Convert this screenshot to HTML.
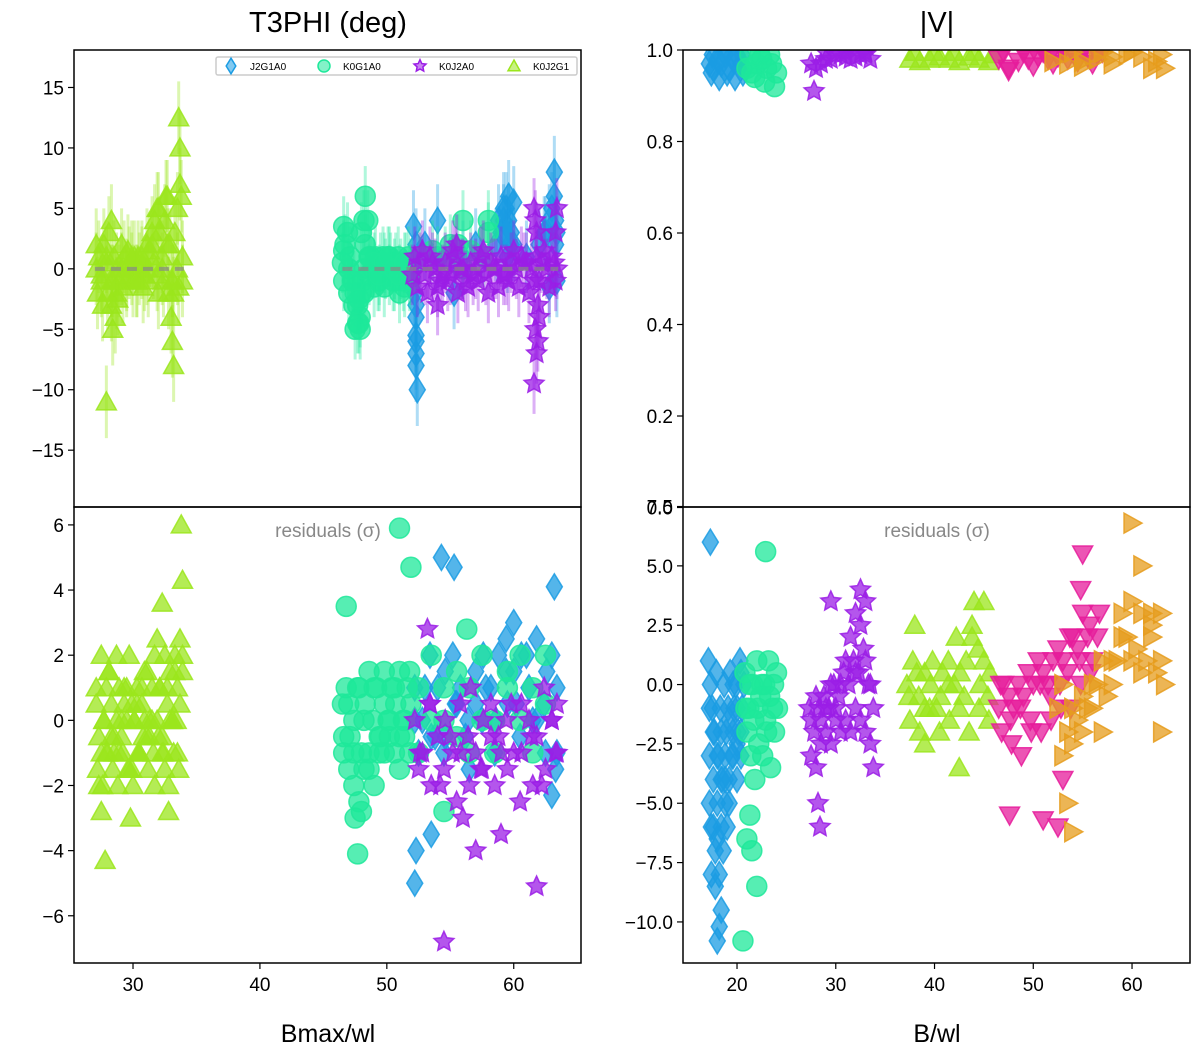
<!DOCTYPE html>
<html><head><meta charset="utf-8"><style>
body{margin:0;background:#fff;}
svg{display:block;font-family:"Liberation Sans","DejaVu Sans",sans-serif;}
</style></head><body>
<svg id="chart" width="1200" height="1055"></svg>
<script>
// ---- data: left top T3PHI ----
const limeTopX=[27.1,27.3,27.5,27.7,27.9,28.1,28.3,28.5,28.7,28.9,29.1,29.3,29.5,29.7,29.9,30.1,30.3,30.5,30.7,30.9,31.1,31.3,31.5,31.7,31.9,32.1,32.3,32.5,32.7,32.9,33.1,33.3,33.5,33.7,33.9,27.2,27.6,28.0,28.4,28.8,29.2,29.6,30.0,30.4,30.8,31.2,31.6,32.0,32.4,32.8,33.2,33.6,27.9,28.4,28.6,33.0,33.1,33.2,33.7,33.8,33.6,32.0,32.6,28.3,27.1,27.5,27.9,28.3,28.7,29.1,29.5,29.9,30.3,30.7,31.1,31.5,31.9,32.3,32.7,33.1,33.5,33.9];
const limeTopY=[0,1,-1,2,0.5,3,4,1,-2,-1,0,1,-1,0.5,0,1,-1,0,1,-0.5,0,1.5,2,4,5,3,0,4,6,2,-1,3,5,7,1,-2,-3,-2,-1,-2.5,-1.5,1.5,-1,1,-1.5,-1,0.5,-2,-1,-2,-2,-1.5,-11,-5,-4,-4,-6,-8,10,6,12.5,5,6,-3,2,-0.5,1,-1,0,2,-0.5,1,-1,0.5,2,3,-0.5,1,2,-1,0,-1];
const cyanTopX=[46.5,46.7,46.9,47.1,47.3,47.5,47.7,47.9,48.1,48.3,48.5,48.7,48.9,49.1,49.3,49.5,49.7,49.9,50.1,50.3,50.5,50.7,50.9,51.1,51.3,51.5,51.7,51.9,46.6,47.0,47.4,47.8,48.2,48.6,49.0,49.4,49.8,50.2,50.6,51.0,51.4,51.8,47.5,47.7,47.9,48.0,46.6,48.3,48.2,48.0,54,56,56,58,58,55,46.6,47,47.4,47.8,48.2,48.6,49,49.4,49.8,50.2,50.6,51,51.4,51.8,52.6,53.6,54.6,55.6,56.6,57.6];
const cyanTopY=[0.5,2,3,1,-1,-2,-3,-4,-1,2,4,1,0,1,-1,0.5,1,0,1,0.5,-1,0.5,1,0,-1,0.5,1,0,-1,-2,-3,-4.5,-2,-0.5,-1.5,-1,-1.5,-0.5,-1,-2,-1.5,-0.5,-5,-4.5,-5,-2,3.5,6,4,3,1,4,0,3,4,2,1.5,0,-1,-2.5,0,1,0.5,-0.5,0.5,1,0,-0.5,0.5,-1,1,1.5,1,2,1.5,1];
const purpleTopX=[52.2,52.6,53,53.4,53.8,54.2,54.6,55,55.4,55.8,56.2,56.6,57,57.4,57.8,58.2,58.6,59,59.4,59.8,60.2,60.6,61,61.4,61.8,62.2,62.6,63,63.4,52.4,53.2,54,54.8,55.6,56.4,57.2,58,58.8,59.6,60.4,61.2,62,62.8,63.3,61.6,61.7,61.8,61.9,62,61.7,61.8,61.6,61.9,63.4,63.3,54,55.5,52,52.8,53.6,54.4,55.2,56,56.8,57.6,58.4,59.2,60,60.8,61.6,62.4,63.2];
const purpleTopY=[1,0.5,-0.5,1,0,-1,0.5,-0.5,1,0,-1,0.5,0,1,-0.5,0.5,0,1,-0.5,0.5,0,1,0.5,0,1,0.5,0,1,0,-1.5,-2,-1.5,-1,-2,-1.5,-1,-2,-1.5,-1,-1.5,-2,-1,-1.5,-1,5,4,3,-3,-4,-5,-7,-9.5,-6,5,3,-3,2,-0.5,1.5,0.5,-0.5,1.5,0,-0.5,1.5,0,-0.5,1.5,0.5,-1,1.5,0.5];
const blueTopX=[52.1,52.2,52.3,52.3,52.3,52.3,52.4,52.3,55.3,56,58.6,59,59.2,59.4,59.6,59.8,60,59.5,62,62.5,63,63.2,63.3,63.4,62.8,53,54,57,61,63.3,58.8,59.2,59.6,60,59.4,59.8,62.4,62.8,63.2,63.4,52.3,52.3];
const blueTopY=[3.5,-2,-4,-5.5,-7,-8,-10,2,-2,1,2,3,4,5,4,3,2,1,2,3,5,8,4,-1,-1.5,2,4,2,1,2,4,5,6,5.5,3,2,3,4,6,3,-3,-6];
// ---- left bottom residuals ----
const limeResX=[27.1,27.3,27.5,27.7,27.9,28.1,28.3,28.5,28.7,28.9,29.1,29.3,29.5,29.7,29.9,30.1,30.3,30.5,30.7,30.9,31.1,31.3,31.5,31.7,31.9,32.1,32.3,32.5,32.7,32.9,33.1,33.3,33.5,33.7,33.9,27.2,27.6,28,28.4,28.8,29.2,29.6,30,30.4,30.8,31.2,31.6,32,32.4,32.8,33.2,33.6,27.8,33.8,33.9,27.5,29.8,32.8,32.3,27.1,27.5,27.9,28.3,28.7,29.1,29.5,29.9,30.3,30.7,31.1,31.5,31.9,32.3,32.7,33.1,33.5,33.9,27.3,27.7,28.1,28.5,28.9,29.3,29.7,30.1,30.5,30.9,31.3,31.7,32.1,32.5,32.9,33.3,33.7,33.4];
const limeResY=[1,-0.5,2,0,-1,1.5,0.5,-1,0,1,-0.5,1,0,-1.5,0.5,0,1,-1,0.5,0,1.5,-0.5,1,2,0,1,-1,2,0.5,1.5,0,2,1,0.5,1.5,-1.5,-2,-1,-1.5,-2,-1,-1.5,-2,-1,-0.5,-1.5,-1,-0.5,-1,-2,-1,-1.5,-4.3,6,4.3,-2.8,-3,-2.8,3.6,0.5,-1,1,-0.5,2,0,1,-1.5,0.5,1,-0.5,0,2.5,-0.5,1,0,-1,2,-2,0,1.5,-0.5,-1,0.5,2,0,-1,1.5,0,-2,1,-1.5,0,1.5,2.5,0];
const cyanResX=[46.5,46.8,47.1,47.4,47.7,48,48.3,48.6,48.9,49.2,49.5,49.8,50.1,50.4,50.7,51,51.3,51.6,51.9,46.6,47,47.4,47.8,48.2,48.6,49,49.4,49.8,50.2,50.6,51,51.4,51.8,52.5,53.5,54.5,55.5,56.5,57.5,58.5,59.5,60.5,61.5,62.5,47.7,46.8,51.9,51,47.5,48,54.5,56.3,46.6,47,47.4,47.8,48.2,48.6,49,49.4,49.8,50.2,50.6,51,51.4,51.8,52.5,53.5,54.5,55.5,56.5,57.5,58.5,59.5,60.5,61.5,62.5];
const cyanResY=[0.5,1,-0.5,0,1,-1,0.5,1.5,0,1,-0.5,1.5,0,1,0.5,1.5,0,1,0.5,-1,-1.5,-2,-2.5,-1.5,-1,-2,-0.5,-1,-0.5,-1,-0.5,0,-1,1,2,0,1.5,-1,2,0,1,2,-1,0.5,-4.1,3.5,4.7,5.9,-3,-2.8,-2.8,2.8,-0.5,0.5,-1,1,0,-1.5,1,-1,0.5,0,1,-1.5,-0.5,1.5,-1,0,1,-0.5,1,0,-1,1.5,0,1,2];
const blueResX=[52.2,52.8,53.4,54,54.6,55.2,55.8,56.4,57,57.6,58.2,58.8,59.4,60,60.6,61.2,61.8,62.4,63,63.4,52.5,53.5,54.5,55.5,56.5,57.5,58.5,59.5,60.5,61.5,62.5,63.3,54.3,55.3,52.2,52.3,53.5,63.2,63,60,52.2,53,53.8,54.6,55.4,56.2,57,57.8,58.6,59.4,60.2,61,61.8,62.6,63.4];
const blueResY=[1,0,2,1,-0.5,2,1,0,1.5,2,1,2,2.5,1.5,2,1,2.5,0.5,2,1,-1,-0.5,-1,0.5,-1.5,0,-1,0.5,-0.5,0,-1,-1.5,5,4.7,-5,-4,-3.5,4.1,-2.3,3,0,1,-0.5,1.5,0.5,-0.5,0.5,1,0,1.5,0.5,2,0,1.5,-1];
const purpleResX=[52.2,52.8,53.4,54,54.6,55.2,55.8,56.4,57,57.6,58.2,58.8,59.4,60,60.6,61.2,61.8,62.4,63,63.4,52.5,53.5,54.5,55.5,56.5,57.5,58.5,59.5,60.5,61.5,62.5,63.3,54.5,61.8,57,59,56,53.2,52.6,53.4,54.2,55,55.8,56.6,57.4,58.2,59,59.8,60.6,61.4,62.2,63,63.4];
const purpleResY=[0,-1,0.5,-0.5,0,-1,0.5,-0.5,-1,0,0.5,-0.5,0,-1,0.5,0,-0.5,1,0,0.5,-1.5,-2,-1.5,-2.5,-2,-1.5,-2,-1.5,-2.5,-2,-1.5,-1,-6.8,-5.1,-4,-3.5,-3,2.8,-1,0.5,-2,-0.5,-1,1,-1.5,-0.5,-1,0.5,-1,-0.5,-2,0,-1];
// ---- right top |V| ----
const vBlueX=[17.2,17.6,18,18.4,18.8,19.2,19.6,20,20.4,20.8,17.5,18.5,19.5,20.5,17.4,18.2,19,19.8,20.6];
const vBlueY=[0.97,0.96,0.98,0.97,0.99,0.96,0.98,0.99,0.97,0.96,0.99,0.99,0.99,0.99,0.95,0.94,0.95,0.94,0.95];
const vCyanX=[21,21.5,22,22.5,23,23.5,24,21.3,22.3,23.3,23.8,21.8,22.8];
const vCyanY=[0.96,0.95,0.97,0.98,0.96,0.97,0.95,0.99,0.99,0.99,0.92,0.94,0.93];
const vPurpleX=[27.5,28,28.5,29,29.5,30,30.5,31,31.5,32,32.5,33,33.5,27.8,29,31,33];
const vPurpleY=[0.97,0.96,0.97,0.98,0.98,0.99,0.99,0.985,0.98,0.985,0.99,0.99,0.98,0.91,0.995,0.995,0.995];
const vLimeX=[37.5,38.5,39.5,40.5,41.5,42.5,43.5,44.5,45.5,38,40,42,44,46];
const vLimeY=[0.98,0.975,0.98,0.985,0.98,0.975,0.985,0.98,0.975,0.995,0.995,0.995,0.995,0.99];
const vPinkX=[46.5,47.5,48.5,49.5,50.5,51.5,52.5,53.5,54.5,55.5,56.5,47,49,51,53,55,57,47.5,50,52,56];
const vPinkY=[0.98,0.96,0.975,0.98,0.985,0.98,0.985,0.98,0.975,0.985,0.99,0.995,0.995,0.995,0.995,0.995,0.995,0.955,0.965,0.97,0.97];
const vOrangeX=[52,53.5,55,56.5,58,59.5,61,62.5,63.3,54,57,60,63,55,58,62];
const vOrangeY=[0.975,0.97,0.975,0.98,0.985,0.99,0.985,0.975,0.96,0.995,0.995,0.995,0.99,0.965,0.97,0.96];
// ---- right bottom residuals ----
const rBlueX=[17.1,17.3,17.5,17.7,17.9,18.1,18.3,18.5,18.7,18.9,19.1,19.3,19.5,19.7,19.9,20.1,20.3,20.5,20.7,17.2,17.6,18,18.4,18.8,19.2,19.6,20,20.4,17.4,17.8,18.2,18.6,19,17.3,18,18.2,18.4,17.4,17.8,17.2,17.6,18,18.4,18.8,19.2,19.6,20,20.4,17.2,17.6,18,18.4,18.8,19.2,19.6,20,20.4];
const rBlueY=[1,0,-1,-2,0.5,-3,-1,-4,0,-2,-1,0.5,-3,-1,0,-2,1,-1,0,-3,-4,-5,-6,-5,-4,-3,-2.5,-2,-6,-7,-8,-7,-6,6,-10.8,-10.2,-9.5,-8,-8.5,-1,-2,-3,-2,-4,-1.5,0,-1,0.5,-5,-6,-6.5,-4,-3,-5,-2,-4,-3];
const rCyanX=[20.8,21.2,21.6,22,22.4,22.8,23.2,23.6,24,21,21.4,21.8,22.2,22.6,23,23.4,23.8,21.5,22,21,22.9,20.6,21.3,20.9,21.3,21.7,22.1,22.5,22.9,23.3,23.7,24.1];
const rCyanY=[0.5,-1,0,1,-0.5,0,1,-1,0.5,-2,-3,-4,-2.5,-3,-2,-3.5,-2,-7,-8.5,-6.5,5.6,-10.8,-5.5,-1,0,-1.5,-1,0,-1.5,-0.5,0,-1];
const rPurpleX=[27.3,27.8,28.3,28.8,29.3,29.8,30.3,30.8,31.3,31.8,32.3,32.8,33.3,33.8,27.5,28,28.5,29,29.5,30,30.5,31,31.5,32,32.5,33,33.5,28.2,28.4,32.5,33,29.5,32,33.8,27.5,28,28.5,29,29.5,30,30.5,31,31.5,32,32.5,33,33.5];
const rPurpleY=[-1,-2,-1,-0.5,-1,0,-0.5,0.5,0,1,0.5,1.5,0,-1,-3,-3.5,-2.5,-2,-2.5,-1.5,-2,-1.5,-2,-1,-1.5,-2,-2.5,-5,-6,4,3.5,3.5,3,-3.5,-1.5,-0.5,-1.5,-1,0,-1,0,1,2,0.5,2.5,1,0];
const rLimeX=[37.2,37.8,38.4,39,39.6,40.2,40.8,41.4,42,42.6,43.2,43.8,44.4,45,45.6,37.5,38.5,39.5,40.5,41.5,42.5,43.5,44.5,45.5,38,44,45,42.5,39,37.4,38.2,39,39.8,40.6,41.4,42.2,43,43.8,44.6,45.4];
const rLimeY=[0,1,-0.5,0.5,0,-1,0.5,1,0,0.5,1,2,1.5,1,0.5,-1.5,-2,-1,-2,-1.5,-1,-2,-1,-1.5,2.5,3.5,3.5,-3.5,-2.5,-0.5,0.5,-1,1,-0.5,0,2,-0.5,2.5,0,-0.5];
const rPinkX=[46.5,47,47.5,48,48.5,49,49.5,50,50.5,51,51.5,52,52.5,53,53.5,54,54.5,55,55.5,56,56.5,46.8,47.8,48.8,49.8,50.8,51.8,52.8,53.8,54.8,55.8,47.6,51,52.5,55,54.8,53,46.7,47.7,48.7,49.7,50.7,51.7,52.7,53.7,54.7,55.7,56.7];
const rPinkY=[-1,0,-0.5,-1,0,-0.5,0.5,0,1,0.5,0,1,1.5,1,0.5,2,1.5,3,2,1,2,-2,-2.5,-3,-2,-2,-1.5,-1,-1,0,0.5,-5.5,-5.7,-6,5.5,4,-4,0,-1.5,-1,-1.5,0,-0.5,0,2,1,2.5,3];
const rOrangeX=[52.5,53.5,54.5,55.5,56.5,57.5,58.5,59.5,60.5,61.5,62.5,63.3,53,54,55,56,57,58,59,60,61,62,63,60,62,53.5,54,61,63,53,54,55,56,57,58,59,60,61,62,63];
const rOrangeY=[-1,-2,-1.5,-1,0,-0.5,1,2,1.5,1,0.5,0,-3,-2.5,-2,-1,-2,1,3,3.5,3,2.5,1,6.8,3,-5,-6.2,5,-2,0,-1,-0.5,0,1,0,2,1,0.5,2,3];
// tick labels
const leftTopTicks=[15,10,5,0,-5,-10,-15];
const leftBotTicks=[6,4,2,0,-2,-4,-6];
const leftXTicks=[30,40,50,60];
const rightTopTicks=[1.0,0.8,0.6,0.4,0.2,0.0];
const rightBotTicks=[7.5,5.0,2.5,0.0,-2.5,-5.0,-7.5,-10.0];
const rightXTicks=[20,30,40,50,60];

const C={blue:'#1b9ce3',cyan:'#1ee89a',purple:'#9b1de6',lime:'#9be61c',pink:'#e61c9b',orange:'#e69c1c'};
const NS='http://www.w3.org/2000/svg';
const svg=document.getElementById('chart');
function mk(tag,attrs,parent){const e=document.createElementNS(NS,tag);for(const k in attrs)e.setAttribute(k,attrs[k]);(parent||svg).appendChild(e);return e;}
function axis(x0,x1,d0,d1){return v=>x0+(v-d0)/(d1-d0)*(x1-x0);}
const P1={x:axis(74,581,25.35,65.3),y:axis(50,507,18.1,-19.7),x0:74,x1:581,y0:50,y1:507,id:'c1'};
const P2={x:axis(74,581,25.35,65.3),y:axis(507,963,6.55,-7.45),x0:74,x1:581,y0:507,y1:963,id:'c2'};
const P3={x:axis(683,1190,14.53,65.87),y:axis(50,507.5,1.0,0.0),x0:683,x1:1190,y0:50,y1:507,id:'c3'};
const P4={x:axis(683,1190,14.53,65.87),y:axis(507,963,7.48,-11.73),x0:683,x1:1190,y0:507,y1:963,id:'c4'};
const defs=mk('defs',{});
[P1,P2,P3,P4].forEach(p=>{const cp=mk('clipPath',{id:p.id},defs);mk('rect',{x:p.x0,y:p.y0,width:p.x1-p.x0,height:p.y1-p.y0},cp);});

function markerPath(shape,cx,cy,r){
  if(shape==='diamond')return `M${cx},${cy-r*1.3}L${cx+r*0.8},${cy}L${cx},${cy+r*1.3}L${cx-r*0.8},${cy}Z`;
  if(shape==='tri')return `M${cx},${cy-r}L${cx+r},${cy+r*0.8}L${cx-r},${cy+r*0.8}Z`;
  if(shape==='trid')return `M${cx},${cy+r}L${cx+r},${cy-r*0.8}L${cx-r},${cy-r*0.8}Z`;
  if(shape==='trir')return `M${cx+r},${cy}L${cx-r*0.8},${cy-r}L${cx-r*0.8},${cy+r}Z`;
  if(shape==='star'){let s='';for(let i=0;i<10;i++){const a=-Math.PI/2+i*Math.PI/5;const rr=i%2?r*0.5:r*1.05;s+=(i?'L':'M')+(cx+rr*Math.cos(a)).toFixed(1)+','+(cy+rr*Math.sin(a)).toFixed(1);}return s+'Z';}
  return `M${cx-r},${cy}a${r},${r} 0 1,0 ${2*r},0a${r},${r} 0 1,0 ${-2*r},0`;
}
function series(P,xs,ys,shape,color,name,err){
  const g=mk('g',{'clip-path':`url(#${P.id})`});
  
  
  for(let i=0;i<xs.length;i++){
    const cx=P.x(xs[i]),cy=P.y(ys[i]);
    if(err){const e=mk('line',{x1:cx,x2:cx,y1:P.y(ys[i]+err),y2:P.y(ys[i]-err),stroke:color,'stroke-width':3,'stroke-opacity':0.35},g);
      
      }
    const m=mk('path',{d:markerPath(shape,cx,cy,10),fill:color,'fill-opacity':0.75,stroke:color,'stroke-opacity':0.85,'stroke-width':1.5},g);
    
    
  }
}
function frame(P,name){const r=mk('rect',{x:P.x0,y:P.y0,width:P.x1-P.x0,height:P.y1-P.y0,fill:'none',stroke:'#000','stroke-width':1.5});
  
  }
function yticks(P,ticks,fmt,name){ticks.forEach(t=>{const y=P.y(t);mk('line',{x1:P.x0-6,x2:P.x0,y1:y,y2:y,stroke:'#000','stroke-width':1.2});
  const tx=mk('text',{x:P.x0-10,y:y+7,'text-anchor':'end','font-size':19,fill:'#000'});tx.textContent=fmt(t);
  
  });}
function xticks(P,ticks,name){ticks.forEach(t=>{const x=P.x(t);mk('line',{x1:x,x2:x,y1:P.y1,y2:P.y1+6,stroke:'#000','stroke-width':1.2});
  const tx=mk('text',{x:x,y:P.y1+28,'text-anchor':'middle','font-size':19,fill:'#000'});tx.textContent=t;
  
  });}
const minus=s=>String(s).replace('-','\u2212');

series(P1,blueTopX,blueTopY,'diamond',C.blue,'j2g1a0-t3phi',3);
series(P1,cyanTopX,cyanTopY,'circle',C.cyan,'k0g1a0-t3phi',2.5);
series(P1,purpleTopX,purpleTopY,'star',C.purple,'k0j2a0-t3phi',2.5);
series(P1,limeTopX,limeTopY,'tri',C.lime,'k0j2g1-t3phi',3);
[[27,34],[46.5,63.5]].forEach(r=>{const l=mk('line',{x1:P1.x(r[0]),x2:P1.x(r[1]),y1:P1.y(0),y2:P1.y(0),stroke:'#888','stroke-width':4,'stroke-dasharray':'10 6','stroke-opacity':0.7});
  
  });
series(P2,blueResX,blueResY,'diamond',C.blue,'j2g1a0-residuals');
series(P2,cyanResX,cyanResY,'circle',C.cyan,'k0g1a0-residuals');
series(P2,purpleResX,purpleResY,'star',C.purple,'k0j2a0-residuals');
series(P2,limeResX,limeResY,'tri',C.lime,'k0j2g1-residuals');
series(P3,vBlueX,vBlueY,'diamond',C.blue,'blue-visibility');
series(P3,vCyanX,vCyanY,'circle',C.cyan,'cyan-visibility');
series(P3,vPurpleX,vPurpleY,'star',C.purple,'purple-visibility');
series(P3,vLimeX,vLimeY,'tri',C.lime,'lime-visibility');
series(P3,vPinkX,vPinkY,'trid',C.pink,'pink-visibility');
series(P3,vOrangeX,vOrangeY,'trir',C.orange,'orange-visibility');
series(P4,rBlueX,rBlueY,'diamond',C.blue,'blue-residuals');
series(P4,rCyanX,rCyanY,'circle',C.cyan,'cyan-residuals');
series(P4,rPurpleX,rPurpleY,'star',C.purple,'purple-residuals');
series(P4,rLimeX,rLimeY,'tri',C.lime,'lime-residuals');
series(P4,rPinkX,rPinkY,'trid',C.pink,'pink-residuals');
series(P4,rOrangeX,rOrangeY,'trir',C.orange,'orange-residuals');

frame(P1,'t3phi-panel');frame(P2,'t3phi-residual-panel');frame(P3,'visibility-panel');frame(P4,'visibility-residual-panel');
yticks(P1,leftTopTicks,t=>minus(t),'t3phi-y-tick');
yticks(P2,leftBotTicks,t=>minus(t),'t3phi-residual-y-tick');
xticks(P2,leftXTicks,'bmax-x-tick');
yticks(P3,rightTopTicks,t=>t.toFixed(1),'visibility-y-tick');
yticks(P4,rightBotTicks,t=>minus(t.toFixed(1)),'visibility-residual-y-tick');
xticks(P4,rightXTicks,'bwl-x-tick');

function label(x,y,txt,size,name,color){const t=mk('text',{x:x,y:y,'font-size':size,'text-anchor':'middle',fill:color||'#000'});t.textContent=txt;
  
  return t;}
label(328,32,'T3PHI (deg)',29,'left-title');
label(937,32,'|V|',29,'right-title');
label(328,1042,'Bmax/wl',25,'left-x-axis-title');
label(937,1042,'B/wl',25,'right-x-axis-title');
label(328,537,'residuals (\u03c3)',19,'residuals-label-left','#888');
label(937,537,'residuals (\u03c3)',19,'residuals-label-right','#888');

const lg=mk('g',{});


mk('rect',{x:216,y:57,width:361,height:18,fill:'#fff','fill-opacity':0.85,stroke:'#ccc','stroke-width':1.5,rx:2},lg);
[['diamond',C.blue,'J2G1A0',231],['circle',C.cyan,'K0G1A0',324],['star',C.purple,'K0J2A0',420],['tri',C.lime,'K0J2G1',514]].forEach(e=>{
  const it=mk('g',{},lg);
  
  
  mk('path',{d:markerPath(e[0],e[3],66,6),fill:e[1],'fill-opacity':0.55,stroke:e[1],'stroke-width':1.5},it);
  const t=mk('text',{x:e[3]+19,y:70,'font-size':10,fill:'#000'},it);t.textContent=e[2];
});
</script>
</body></html>
